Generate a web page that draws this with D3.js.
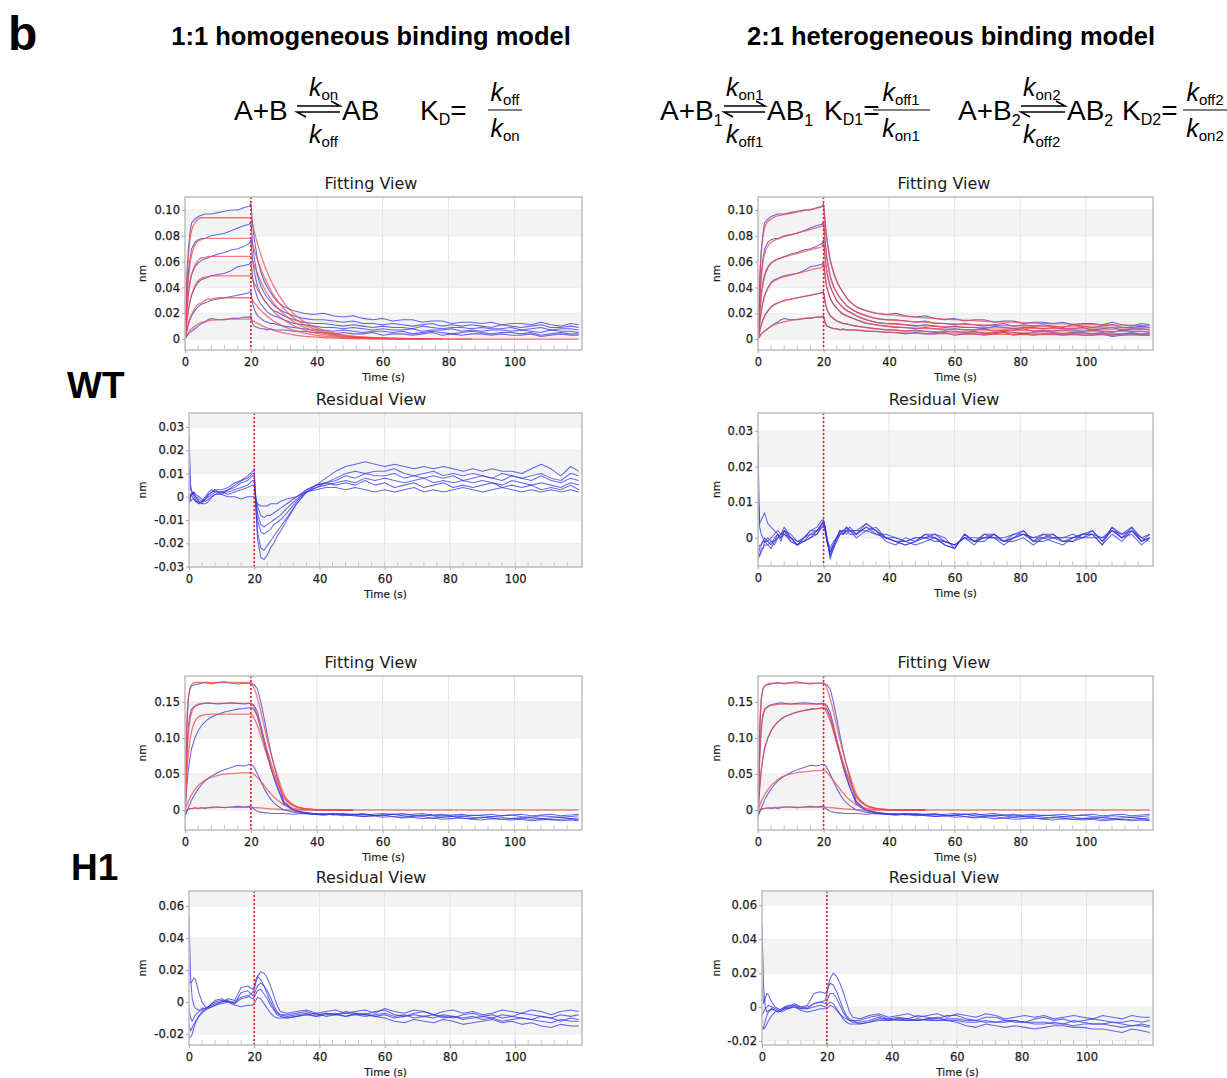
<!DOCTYPE html>
<html><head><meta charset="utf-8">
<script src="https://cdn.jsdelivr.net/npm/d3@7"></script>
<style>html,body{margin:0;padding:0;background:#fff;}svg{display:block;}</style>
</head><body>
<svg id="fig" width="1227" height="1078"></svg>
<script>
// ================= DATA (response values in pm; 1 pm = 0.001 nm) =================
const T = [0,0.5,1,1.5,2,3,4,5,6,7,8,10,12,14,16,18,19.5,20,20.5,21,22,23,24,25,26,27,28,30,33,36,39,42,45,48,51,54,57,60,63,66,69,72,75,78,81,84,87,90,93,96,99,102,105,108,111,114,117,119.5];

// WT raw sensorgrams (blue), 6 concentrations
const wtRawPm = [
[0,45,70,82,90,93,95,96,97,97,97,98,99,100,100,102,103, 105,90,78,62,52,45,40,36,32,29, 25,22,20,19,20,18,17,18,16,15,16,14,15,15,13,14,14,12,13,13,12,13,11,12,12,11,13,11,10,12,11],
[0,30,50,62,70,75,77,78,78,79,80,81,82,84,86,88,89, 91,75,63,49,41,36,32,29,26,24, 21,18,16,15,15,14,13,14,12,12,11,12,11,10,11,12,10,11,10,11,10,9,11,10,9,10,11,9,9,10,9],
[0,20,35,44,50,56,59,61,62,63,64,66,67,69,70,72,74, 77,62,52,41,35,30,27,24,22,21, 18,15,13,12,12,11,10,11,10,9,10,9,9,8,10,9,8,9,9,8,9,8,8,9,7,8,9,7,8,8,7],
[0,12,22,29,34,40,44,46,47,48,49,50,51,53,56,57,58, 60,48,40,32,27,24,21,19,18,17, 15,12,11,10,9,9,8,9,8,7,8,7,7,8,6,7,7,8,6,7,6,7,7,6,7,6,5,7,6,6,5],
[0,6,11,15,18,22,25,27,28,29,30,31,32,33,34,35,36, 37,28,23,18,16,14,13,12,12,11, 10,9,8,7,7,6,7,6,5,6,6,5,6,4,5,6,5,4,5,6,5,4,5,5,4,5,3,4,5,4,4],
[0,2,4,5,6,8,10,12,13,15,16,15,15,16,16,17,17, 18,12,10,9,8,8,7,8,7,7, 7,6,6,5,5,4,5,4,4,5,3,4,4,3,4,5,3,4,3,4,4,3,4,3,3,4,2,3,4,3,3]
];
// WT 1:1 model fit (red)
const wtFit11Pm = [
[0,39,63,76,84,90,93,94,94,94,94,94,94,94,94,94,94, 94,88.5,83.4,74,65.6,58.2,51.6,45.8,40.6,36, 28.3,19.7,13.8,9.6,6.7,4.7,3.3,2.3,1.6,1.1,0.8,0.5,0.4,0.3,0.2,0.1,0.1,0,0,0,0,0,0,0,0,0,0,0,0,0,0],
[0,28,46,58,65,73,76,77,78,78,78,78,78,78,78,78,78, 78,73.5,69.2,61.4,54.4,48.3,42.8,38,33.7,29.9, 23.5,16.4,11.5,8,5.5,3.9,2.7,1.9,1.3,0.9,0.6,0.5,0.3,0.2,0.2,0.1,0,0,0,0],
[0,20,34,44,50,57,61,63,63,64,64,64,64,64,64,64,64, 64,60.3,56.8,50.4,44.7,39.6,35.1,31.2,27.6,24.5, 19.3,13.4,9.4,6.5,4.5,3.2,2.2,1.5,1.1,0.8,0.5,0.4,0.3,0.2,0.1,0.1,0],
[0,13,22,29,34,41,45,47,48,48,49,49,49,49,49,49,49, 49,46.2,43.5,38.6,34.2,30.3,26.9,23.9,21.2,18.8, 14.7,10.3,7.2,5,3.5,2.5,1.7,1.2,0.8,0.6,0.4,0.3,0.2,0.1,0.1,0],
[0,6,12,16,19,24,27,28,30,31,31,32,32,32,32,32,32, 32,30.1,28.4,25.2,22.3,19.8,17.6,15.6,13.8,12.3, 9.6,6.7,4.7,3.3,2.3,1.6,1.1,0.8,0.5,0.4,0.3,0.2,0.1,0.1,0],
[0,2.5,4.6,6.4,7.8,10,11.6,12.9,13.6,14.1,14.6,15,15.3,15.4,15.5,15.5,15.5, 15.5,14.6,13.7,12.2,10.8,9.6,8.5,7.5,6.7,5.9, 4.7,3.3,2.3,1.6,1.1,0.8,0.5,0.4,0.3,0.2,0.1,0.1,0]
];
// WT 2:1 model fit (red)
const wtFit21Pm = [
[0,42,66,79,86,91,93,94.5,95.5,96,96.5,97.5,98.5,99.5,100.5,101.5,102.5, 104,89,77,61,52,45,40,36,32,29, 25,22,20,19,18.5,17.5,17,16.5,16,15.5,15,14.6,14.2,13.8,13.5,13.2,12.9,12.6,12.3,12.1,11.9,11.7,11.5,11.3,11.1,11,10.9,10.8,10.7,10.6,10.5],
[0,29,48,59,66,72,75,76.5,77.5,78.5,79.3,80.8,82.2,83.6,85,86.4,87.5, 90,75,63,49,41,36,32,29,26,24, 21,18,16,15,14.5,14,13.4,13,12.5,12,11.7,11.4,11.1,10.9,10.7,10.5,10.3,10.1,10,9.9,9.7,9.6,9.5,9.4,9.3,9.2,9.1,9,8.9,8.8,8.8],
[0,19,33,42,48,55,58.5,60.5,61.8,62.8,63.6,65,66.4,67.8,69.2,70.5,71.5, 76,62,52,41,35,30,27,24.5,22.5,21, 18,15,13,12,11.5,11,10.6,10.2,9.9,9.6,9.4,9.2,9,8.8,8.7,8.6,8.5,8.4,8.3,8.2,8.1,8,7.9,7.9,7.8,7.7,7.7,7.6,7.6,7.5,7.5],
[0,12,21,28,33,39,43,45,46.5,47.5,48.3,49.6,50.9,52.2,53.5,54.7,55.6, 59,48,40,32,27,24,21.5,19.5,18,17, 15,12.5,11,10,9.4,8.9,8.5,8.2,7.9,7.7,7.5,7.3,7.2,7,6.9,6.8,6.7,6.6,6.5,6.4,6.4,6.3,6.2,6.2,6.1,6.1,6,6,5.9,5.9,5.8],
[0,6,11,14.5,17.5,21.5,24.5,26.5,27.8,28.8,29.6,30.8,31.9,33,34,35,35.8, 36,28.5,23.5,18.5,16,14.2,13,12,11.5,11, 10,8.8,8,7.3,6.8,6.4,6.1,5.9,5.7,5.5,5.4,5.3,5.2,5.1,5,4.9,4.8,4.7,4.7,4.6,4.6,4.5,4.5,4.4,4.4,4.3,4.3,4.2,4.2,4.2,4.1],
[0,2,3.8,5.2,6.4,8.2,9.7,10.9,11.9,12.7,13.4,14.5,15.3,15.9,16.5,17,17.4, 17.5,13,10.5,9,8.2,7.8,7.5,7.3,7.2,7.1, 7,6.3,5.8,5.4,5,4.7,4.5,4.3,4.2,4.1,4,3.9,3.8,3.7,3.7,3.6,3.6,3.5,3.5,3.4,3.4,3.3,3.3,3.3,3.2,3.2,3.2,3.1,3.1,3.1,3]
];
// WT residuals, 1:1 model
const wtRes11Pm = [
[27,5,1,2,0,-2,-3,-1,1,2,3,3,4,6,7,9,11, 12,-5,-18,-26,-27,-25,-22,-20,-17,-15, -10,-3,2,5,8,11,13,14,15,14,13,14,13,12,13,12,13,12,11,12,11,12,11,11,10,12,14,12,9,13,11],
[13,3,2,0,-1,-3,-2,0,2,3,2,2,3,5,7,8,10, 10,-4,-15,-22,-23,-21,-19,-17,-15,-13, -9,-3,2,4,6,8,10,11,10,11,11,12,10,9,10,11,9,10,9,10,9,8,10,9,8,9,10,8,7,10,9],
[0,-2,-1,-1,-2,-3,-2,-1,1,2,3,1,3,4,6,7,9, 9,-2,-10,-15,-16,-15,-14,-12,-11,-10, -7,-2,3,5,6,7,9,8,10,9,9,10,8,9,8,9,8,9,7,8,9,8,7,9,8,7,9,7,6,8,7],
[-3,1,2,1,0,-1,-2,-1,0,1,2,2,2,3,4,5,7, 7,-1,-7,-12,-13,-12,-11,-10,-9,-8, -5,-1,2,4,5,6,7,6,8,7,8,7,6,7,8,6,7,6,7,6,7,6,5,7,6,5,6,5,4,6,5],
[-2,0,1,2,1,0,-1,-2,-1,0,1,2,1,2,3,4,5, 5,0,-4,-8,-9,-8,-8,-7,-6,-5, -3,0,3,5,6,5,6,5,7,5,6,4,5,6,4,5,6,4,5,4,5,6,4,5,4,5,3,4,3,5,3],
[0,1,0,-1,-2,-2,-3,-3,-2,0,1,1,0,0,-1,0,0, 0,-2,-3,-4,-4,-4,-3,-3,-3,-2, -1,0,2,3,4,4,3,4,3,2,3,2,3,4,2,3,2,3,4,3,2,3,4,3,2,3,2,3,2,3,2]
];
// WT residuals, 2:1 model
const wtRes21Pm = [
[26,4,5,6,7,4,3,2,1,0,2,1,-1,0,2,3,5, 5,3,0,-5,-2,0,2,1,3,2, 2,4,2,0,-1,-2,-1,1,0,-2,-3,1,-1,0,1,-1,1,2,-1,0,1,-1,0,1,1,-2,3,0,3,-1,1],
[12,3,1,0,-1,-1,0,1,2,1,3,0,-2,-1,0,2,4, 4,2,-1,-4,-2,0,1,2,2,3, 1,3,1,1,0,-1,0,0,1,-1,-2,0,-2,1,0,-2,0,1,0,1,0,-1,-1,0,2,-1,2,1,2,0,-1],
[-5,-3,-2,-1,0,-1,-2,0,1,0,1,-1,-2,0,1,1,4, 5,3,0,-6,-3,-1,1,2,3,2, 0,2,3,0,-1,-1,-2,-1,0,-2,-3,1,-1,-1,1,-1,-1,0,-2,0,-1,-2,0,1,1,-2,1,-1,2,-1,0],
[-4,-5,-4,-3,-2,-2,-3,-1,1,-1,2,0,-1,-1,0,1,3, 4,2,-1,-4,-2,0,2,1,2,1, 1,3,2,-1,-2,0,-1,0,-1,-1,-2,0,0,0,0,0,1,1,-1,-1,0,0,1,0,0,0,2,0,1,-2,0],
[-6,-5,-3,-3,-1,-2,-1,-1,0,1,2,-1,-2,0,2,2,4, 4,3,0,-5,-3,-1,1,1,2,2, 2,2,1,0,-1,-2,-1,1,1,0,-3,1,-1,1,1,-1,0,2,-1,1,1,-1,-1,1,2,-1,3,1,3,0,1],
[-3,-2,-2,-1,-1,0,-1,-2,0,1,1,0,-2,-1,1,2,3, 3,2,0,-3,-1,0,2,2,1,2, 1,4,2,0,0,-1,0,0,0,-1,-2,0,-1,0,0,-1,0,1,0,0,0,0,0,0,1,0,2,0,2,-1,0]
];
// H1 raw sensorgrams (blue), 5 concentrations
const h1RawPm = [
[-5,110,155,168,172,174,175,176,177,176,175,177,178,176,175,176,176, 176,175,174,168,150,128,104,82,62,45, 12,0,-4,-5,-6,-5,-6,-7,-6,-8,-7,-6,-8,-9,-7,-8,-10,-9,-8,-10,-11,-9,-10,-12,-11,-10,-12,-11,-10,-12,-11],
[-8,70,115,132,140,144,146,147,148,149,148,147,148,149,148,147,148, 148,147,145,136,118,98,79,61,46,33, 10,0,-3,-5,-6,-5,-7,-6,-5,-7,-8,-6,-5,-7,-8,-7,-6,-8,-9,-7,-8,-9,-8,-7,-9,-10,-8,-9,-10,-9,-8],
[-10,30,55,72,85,100,110,117,122,126,129,133,136,138,140,141,142, 142,141,139,130,112,93,76,59,44,31, 8,-1,-4,-6,-5,-7,-6,-8,-9,-8,-10,-9,-11,-10,-12,-11,-13,-12,-11,-13,-14,-12,-13,-14,-13,-15,-14,-13,-15,-14,-15],
[-8,-3,3,8,14,22,29,35,40,44,47,52,56,59,62,61,63, 63,62,59,50,40,30,22,15,10,6, 0,-3,-5,-6,-7,-6,-8,-7,-9,-8,-7,-9,-10,-8,-9,-11,-10,-9,-11,-12,-10,-11,-13,-12,-11,-13,-12,-14,-13,-12,-14],
[-10,-2,1,2,2,3,2,3,2,3,4,4,3,4,5,4,5, 5,3,1,-2,-3,-4,-4,-5,-5,-5, -5,-6,-5,-6,-7,-6,-5,-6,-7,-6,-5,-6,-7,-6,-5,-7,-8,-7,-6,-8,-7,-6,-8,-7,-6,-8,-7,-6,-8,-7,-6]
];
// H1 1:1 model fit (red)
const h1Fit11Pm = [
[0,112,153,168,174,177,177,177,177,177,177,177,177,177,177,177,177, 177,174,169,155,137,117,97,79,63,49, 22,7,2.2,0.7,0.2,0,0,0,0,0,0,0,0,0,0,0,0,0,0,0,0,0,0,0,0,0,0,0,0,0,0],
[0,67,105,125,135,144,147,148,148,148,148,148,148,148,148,148,148, 148,146,142,130,115,98,82,67,53,41, 19,6,2,0.6,0.2,0,0,0],
[0,46,76,96,109,123,128.6,131,132,132.6,133,133,133,133,133,133,133, 133,131,127,117,103,88,74,60,48,37, 17,5.5,1.8,0.6,0.2,0,0,0],
[0,6.4,12,16.7,21.2,28.1,33.7,37.9,41.1,43.6,45.5,48.1,49.7,50.6,51.2,51.5,51.7, 52,51,49,45,40,34,28,23,18,14, 7,2.3,0.8,0.3,0.1,0,0,0],
[0,0.5,1,1.4,1.8,2.3,2.7,3,3.2,3.3,3.4,3.5,3.5,3.5,3.5,3.5,3.5, 3.5,3.4,3.3,3.1,2.8,2.4,2,1.6,1.3,1, 0.5,0.2,0,0,0,0,0,0]
];
// H1 2:1 model fit (red)
const h1Fit21Pm = [
[0,110,152,167,172,175,176,176,176,176,176,176,176,176,176,176,176, 176,174,169,155,137,117,97,79,63,49, 22,7,2.2,0.7,0.2,0,0,0,0,0,0,0,0,0,0,0,0,0,0,0,0,0,0,0,0,0,0,0,0,0,0],
[0,72,112,130,138,143,145,146,146.5,147,147,147,147,147,147,147,147, 147,145,141,129,114,97,81,66,52,40, 19,6,2,0.6,0.2,0,0,0],
[0,30,55,72,84,100,110,117,122,126,129,133,136,138,139.5,140.5,141, 141,139,135,124,109,93,78,63,50,39, 18,6,2,0.6,0.2,0,0,0],
[0,6,12,17,21,28,34,38,42,45,47,50,52,53,54,54.5,55, 55,54,52,47,41,35,29,23,18,14, 7,2.3,0.8,0.3,0.1,0,0,0],
[0,0.6,1.2,1.7,2.1,2.7,3.1,3.4,3.6,3.8,3.9,4,4,4,4,4,4, 4,3.8,3.6,3.2,2.8,2.4,2,1.6,1.3,1, 0.5,0.2,0,0,0,0,0,0]
];
// H1 residuals, 1:1 model
const h1Res11Pm = [
[53,15,2,-2,-4,-5,-5,-4,-3,-1,0,1,0,-1,2,3,6, 8,12,16,19,18,15,10,4,-2,-6, -7,-6,-5,-7,-6,-5,-7,-6,-5,-7,-4,-6,-7,-5,-6,-8,-6,-5,-7,-6,-8,-7,-5,-6,-7,-5,-6,-8,-6,-5,-6],
[13,12,13,15,14,6,0,-3,-4,-3,-2,0,2,1,9,10,8, 9,14,16,14,10,5,0,-4,-7,-8, -8,-7,-6,-8,-7,-8,-6,-7,-8,-6,-5,-8,-9,-7,-6,-8,-9,-10,-8,-7,-9,-8,-10,-9,-7,-8,-9,-10,-8,-9,-8],
[-5,-10,-12,-10,-8,-6,-4,-4,-3,-2,-1,0,1,-1,6,7,4, 5,8,10,12,10,7,3,-2,-6,-8, -9,-8,-7,-9,-8,-7,-9,-8,-7,-9,-10,-12,-13,-11,-12,-13,-11,-12,-14,-13,-12,-11,-13,-12,-14,-13,-15,-16,-14,-15,-15],
[-15,-18,-16,-14,-12,-9,-7,-5,-4,-3,-2,-1,0,0,3,4,2, 3,5,7,8,5,2,-2,-5,-8,-9, -10,-9,-8,-7,-9,-8,-7,-8,-9,-8,-7,-9,-8,-10,-9,-8,-10,-9,-11,-10,-9,-10,-8,-9,-10,-11,-9,-10,-12,-10,-11],
[-22,-22,-20,-16,-13,-9,-6,-5,-3,-1,1,2,0,-2,-3,-2,-2, -1,1,3,2,-1,-4,-7,-9,-10,-10, -10,-9,-8,-9,-7,-8,-9,-7,-8,-9,-8,-10,-9,-8,-9,-10,-8,-9,-10,-9,-11,-10,-12,-11,-10,-11,-12,-13,-11,-12,-12]
];
// H1 residuals, 2:1 model
const h1Res21Pm = [
[48,12,0,-3,-2,-1,-2,-3,-2,0,1,1,-1,-1,2,3,4, 8,13,17,20,18,14,9,3,-3,-6, -7,-5,-4,-6,-5,-4,-6,-5,-4,-6,-4,-5,-6,-4,-5,-7,-6,-5,-6,-5,-7,-6,-5,-6,-7,-5,-6,-7,-5,-6,-6],
[12,2,5,8,7,3,0,-1,-2,-1,0,2,0,1,8,9,8, 9,12,14,13,9,4,-1,-5,-7,-8, -8,-6,-5,-7,-6,-7,-5,-6,-7,-5,-5,-7,-8,-6,-6,-8,-8,-9,-7,-6,-8,-7,-9,-8,-7,-8,-9,-9,-8,-9,-8],
[-13,-12,-8,-5,-3,-1,-2,-3,-2,-1,0,0,-1,0,2,3,2, 3,6,8,8,5,1,-3,-6,-8,-9, -9,-8,-6,-8,-7,-7,-8,-7,-6,-8,-9,-11,-12,-10,-11,-12,-11,-12,-13,-12,-11,-11,-12,-12,-13,-13,-14,-15,-13,-14,-15],
[-12,-13,-12,-10,-8,-5,-3,-2,-1,0,-1,1,0,-1,0,1,0, 1,2,3,2,-1,-4,-7,-9,-10,-10, -10,-9,-7,-7,-8,-8,-7,-8,-8,-7,-7,-8,-8,-9,-9,-8,-9,-9,-10,-10,-9,-10,-8,-9,-10,-10,-9,-10,-11,-10,-11],
[-5,-3,-1,0,1,0,-1,-2,-3,-2,-1,0,-2,-3,-2,-1,-1, -1,0,1,0,-2,-4,-6,-7,-8,-8, -10,-9,-8,-8,-7,-8,-8,-7,-8,-8,-8,-9,-9,-8,-9,-9,-8,-9,-9,-9,-10,-10,-11,-10,-10,-10,-11,-12,-11,-11,-12]
];

// Axis ticks and labels
const xTickVals = [0,20,40,60,80,100];
const xTickLabels = ["0","20","40","60","80","100"];
const fitWTTicks = [0,0.02,0.04,0.06,0.08,0.10];
const fitWTLabels = ["0","0.02","0.04","0.06","0.08","0.10"];
const resWT11Ticks = [-0.03,-0.02,-0.01,0,0.01,0.02,0.03];
const resWT11Labels = ["-0.03","-0.02","-0.01","0","0.01","0.02","0.03"];
const resWT21Ticks = [0,0.01,0.02,0.03];
const resWT21Labels = ["0","0.01","0.02","0.03"];
const fitH1Ticks = [0,0.05,0.10,0.15];
const fitH1Labels = ["0","0.05","0.10","0.15"];
const resH1Ticks = [-0.02,0,0.02,0.04,0.06];
const resH1Labels = ["-0.02","0","0.02","0.04","0.06"];
const injectionEnd = 20;

// ================= DRAWING =================
const svg = d3.select('#fig');
svg.append('rect').attr('width',1227).attr('height',1078).attr('fill','#fff');
const defs = svg.append('defs');
const CHART_FONT = '"DejaVu Sans", Verdana, sans-serif';
const HEAD_FONT = '"Liberation Sans", Arial, Helvetica, sans-serif';
const INK = '#1c1c1c';

const panels = [
 {l:185,r:582,t:197,b:350,yd:[-0.0085,0.1101],ticks:fitWTTicks,labels:fitWTLabels,title:'Fitting View',tcx:371,nmx:146,blue:wtRawPm,red:wtFit11Pm},
 {l:758,r:1153,t:197,b:350,yd:[-0.0085,0.1101],ticks:fitWTTicks,labels:fitWTLabels,title:'Fitting View',tcx:944,nmx:720,blue:wtRawPm,red:wtFit21Pm},
 {l:189,r:582,t:413,b:567,yd:[-0.0302,0.0360],ticks:resWT11Ticks,labels:resWT11Labels,title:'Residual View',tcx:371,nmx:146,blue:wtRes11Pm,red:null},
 {l:758,r:1153,t:413,b:566,yd:[-0.0079,0.0350],ticks:resWT21Ticks,labels:resWT21Labels,title:'Residual View',tcx:944,nmx:720,blue:wtRes21Pm,red:null},
 {l:185,r:582,t:676,b:830,yd:[-0.0278,0.186],ticks:fitH1Ticks,labels:fitH1Labels,title:'Fitting View',tcx:371,nmx:146,blue:h1RawPm,red:h1Fit11Pm},
 {l:758,r:1153,t:676,b:830,yd:[-0.0278,0.186],ticks:fitH1Ticks,labels:fitH1Labels,title:'Fitting View',tcx:944,nmx:720,blue:h1RawPm,red:h1Fit21Pm},
 {l:189,r:582,t:891,b:1045,yd:[-0.0269,0.0694],ticks:resH1Ticks,labels:resH1Labels,title:'Residual View',tcx:371,nmx:146,blue:h1Res11Pm,red:null},
 {l:762,r:1153,t:891,b:1045,yd:[-0.0224,0.0684],ticks:resH1Ticks,labels:resH1Labels,title:'Residual View',tcx:944,nmx:720,blue:h1Res21Pm,red:null}
];

function styleAxis(a){
  a.select('.domain').remove();
  a.attr('font-family',CHART_FONT).attr('font-size',11.5);
  a.selectAll('text').attr('fill',INK).attr('stroke',INK).attr('stroke-width',0.25);
  a.selectAll('line').attr('stroke','#aaa');
}

function drawPanel(p, idx){
  const x = d3.scaleLinear().domain([0,120.5]).range([p.l,p.r]);
  const y = d3.scaleLinear().domain(p.yd).range([p.b,p.t]);
  const g = svg.append('g').attr('font-family',CHART_FONT);
  const cid = 'clip'+idx;
  defs.append('clipPath').attr('id',cid).append('rect')
    .attr('x',p.l).attr('y',p.t).attr('width',p.r-p.l).attr('height',p.b-p.t);
  g.append('rect').attr('x',p.l).attr('y',p.t).attr('width',p.r-p.l).attr('height',p.b-p.t).attr('fill','#fff');
  // alternating bands
  const n = p.ticks.length;
  p.ticks.forEach((tv,i)=>{
    if(i%2) return;
    const hi = i<n-1 ? p.ticks[i+1] : p.yd[1];
    g.append('rect').attr('x',p.l).attr('width',p.r-p.l)
      .attr('y',y(hi)).attr('height',y(tv)-y(hi)).attr('fill','#f3f3f3');
  });
  // grid
  g.selectAll('line.hg').data(p.ticks).join('line').attr('class','hg')
    .attr('x1',p.l).attr('x2',p.r).attr('y1',d=>y(d)).attr('y2',d=>y(d))
    .attr('stroke','#ececec').attr('stroke-width',1);
  g.selectAll('line.vg').data(xTickVals.filter(v=>v>0)).join('line').attr('class','vg')
    .attr('x1',d=>x(d)).attr('x2',d=>x(d)).attr('y1',p.t).attr('y2',p.b)
    .attr('stroke','#e3e3e3').attr('stroke-width',1);
  // minor ticks inside bottom
  g.selectAll('line.mt').data(d3.range(4,120,4)).join('line').attr('class','mt')
    .attr('x1',d=>x(d)).attr('x2',d=>x(d)).attr('y1',p.b).attr('y2',p.b-5)
    .attr('stroke','#c9c9c9').attr('stroke-width',1);
  // curves
  const plot = g.append('g').attr('clip-path',`url(#${cid})`);
  const toPts = s => s.slice(0, T.length).map((v,i)=>[T[i], v/1000]);
  const lineBlue = d3.line().x(d=>x(d[0])).y(d=>y(d[1]));
  const lineRed = d3.line().x(d=>x(d[0])).y(d=>y(d[1])).curve(d3.curveMonotoneX);
  plot.selectAll('path.blue').data(p.blue.map(toPts)).join('path').attr('class','blue')
    .attr('d',lineBlue).attr('fill','none').attr('stroke','#3535de')
    .attr('stroke-opacity',0.75).attr('stroke-width',1.05).attr('stroke-linejoin','round');
  if(p.red){
    plot.selectAll('path.red').data(p.red.map(toPts)).join('path').attr('class','red')
      .attr('d',lineRed).attr('fill','none').attr('stroke','#f04646')
      .attr('stroke-opacity',0.72).attr('stroke-width',1.3);
  }
  // dotted injection-end line
  plot.append('line').attr('x1',x(injectionEnd)).attr('x2',x(injectionEnd))
    .attr('y1',p.t).attr('y2',p.b).attr('stroke','#e02222').attr('stroke-width',1.6)
    .attr('stroke-dasharray','2,2');
  // frame
  g.append('rect').attr('x',p.l).attr('y',p.t).attr('width',p.r-p.l).attr('height',p.b-p.t)
    .attr('fill','none').attr('stroke','#bdbdbd').attr('stroke-width',1.5);
  // axes
  const ya = d3.axisLeft(y).tickValues(p.ticks).tickFormat((d,i)=>p.labels[i]).tickSize(3).tickPadding(2);
  g.append('g').attr('transform',`translate(${p.l},0)`).call(ya).call(styleAxis);
  const xa = d3.axisBottom(x).tickValues(xTickVals).tickFormat((d,i)=>xTickLabels[i]).tickSize(3).tickPadding(5);
  g.append('g').attr('transform',`translate(0,${p.b})`).call(xa).call(styleAxis);
  // labels
  g.append('text').attr('x',p.tcx).attr('y',p.t-8).attr('text-anchor','middle')
    .attr('font-size',16).attr('fill',INK).text(p.title);
  g.append('text').attr('x',(p.l+p.r)/2).attr('y',p.b+31).attr('text-anchor','middle')
    .attr('font-size',10.5).attr('fill',INK).attr('stroke',INK).attr('stroke-width',0.2).text('Time (s)');
  g.append('text').attr('transform',`translate(${p.nmx},${(p.t+p.b)/2}) rotate(-90)`)
    .attr('text-anchor','middle').attr('font-size',10.5).attr('fill',INK).attr('stroke',INK).attr('stroke-width',0.2).text('nm');
}
panels.forEach(drawPanel);

// ================= HEADERS & EQUATIONS =================
const hdr = svg.append('g').attr('font-family',HEAD_FONT).attr('fill','#000');
hdr.append('text').attr('x',8).attr('y',50).attr('font-size',48).attr('font-weight','bold').text('b');
hdr.append('text').attr('x',371).attr('y',45).attr('text-anchor','middle').attr('font-size',25.5).attr('font-weight','bold').text('1:1 homogeneous binding model');
hdr.append('text').attr('x',951).attr('y',45).attr('text-anchor','middle').attr('font-size',25.5).attr('font-weight','bold').text('2:1 heterogeneous binding model');
hdr.append('text').attr('x',67).attr('y',398).attr('font-size',37).attr('font-weight','bold').text('WT');
hdr.append('text').attr('x',71).attr('y',880).attr('font-size',37).attr('font-weight','bold').text('H1');

function rich(x,y,parts,anchor){
  const t = hdr.append('text').attr('x',x).attr('y',y).attr('text-anchor',anchor||'start');
  let off = 0;
  parts.forEach(p=>{
    const want = p.sub||0;
    const ts = t.append('tspan').attr('font-size',p.s).attr('dy',want-off).text(p.t);
    if(p.i) ts.attr('font-style','italic');
    off = want;
  });
}
const kk = (sub)=>[{t:'k',s:25,i:1},{t:sub,s:15,sub:4}];
function harpoons(x1,x2,yTop,yBot){
  const path = (d)=>hdr.append('path').attr('d',d).attr('stroke','#000').attr('stroke-width',1.6).attr('fill','none');
  path(`M${x1},${yTop}H${x2}l-9,-5`);
  path(`M${x2},${yBot}H${x1}l9,5`);
}
function fraction(cx,x1,x2,num,den){
  rich(cx,101,kk(num),'middle');
  hdr.append('line').attr('x1',x1).attr('x2',x2).attr('y1',110).attr('y2',110).attr('stroke','#000').attr('stroke-width',1.2);
  rich(cx,137,kk(den),'middle');
}
// 1:1
rich(234,120,[{t:'A+B',s:28}]);
harpoons(297,340,106,112);
rich(309,96,kk('on'));
rich(309,143,kk('off'));
rich(342,120,[{t:'AB',s:28}]);
rich(420,120,[{t:'K',s:28},{t:'D',s:16,sub:5},{t:'=',s:28,sub:0}]);
fraction(505,488,522,'off','on');
// 2:1
rich(660,120,[{t:'A+B',s:28},{t:'1',s:16,sub:6}]);
harpoons(724,765,106,112);
rich(726,96,kk('on1'));
rich(726,143,kk('off1'));
rich(767,120,[{t:'AB',s:28},{t:'1',s:16,sub:6}]);
rich(824,120,[{t:'K',s:28},{t:'D1',s:16,sub:5},{t:'=',s:28,sub:0}]);
fraction(901,873,930,'off1','on1');
rich(958,120,[{t:'A+B',s:28},{t:'2',s:16,sub:6}]);
harpoons(1021,1065,106,112);
rich(1023,96,kk('on2'));
rich(1023,143,kk('off2'));
rich(1067,120,[{t:'AB',s:28},{t:'2',s:16,sub:6}]);
rich(1122,120,[{t:'K',s:28},{t:'D2',s:16,sub:5},{t:'=',s:28,sub:0}]);
fraction(1205,1183,1227,'off2','on2');
</script>
</body></html>
